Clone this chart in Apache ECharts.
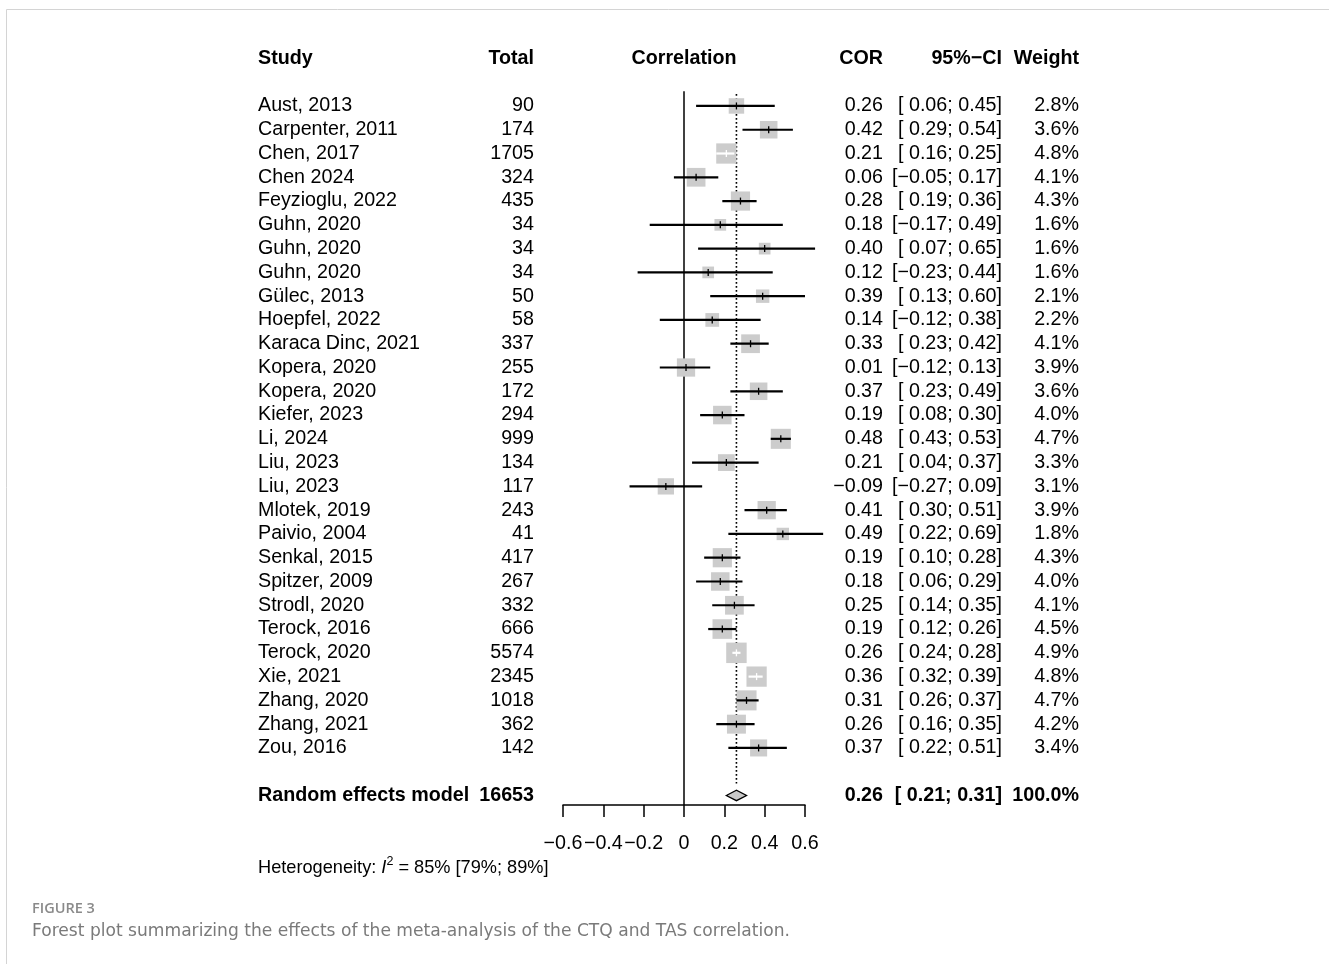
<!DOCTYPE html>
<html><head><meta charset="utf-8">
<script src="https://cdn.jsdelivr.net/npm/echarts@6/dist/echarts.min.js"></script>
<style>html,body{margin:0;padding:0;background:#fff}#chart{width:1329px;height:964px}</style>
</head><body><div id="chart"></div>
<script>
// ---------- data ----------
const studies = ['Aust, 2013','Carpenter, 2011','Chen, 2017','Chen 2024','Feyzioglu, 2022','Guhn, 2020','Guhn, 2020','Guhn, 2020','Gülec, 2013','Hoepfel, 2022','Karaca Dinc, 2021','Kopera, 2020','Kopera, 2020','Kiefer, 2023','Li, 2024','Liu, 2023','Liu, 2023','Mlotek, 2019','Paivio, 2004','Senkal, 2015','Spitzer, 2009','Strodl, 2020','Terock, 2016','Terock, 2020','Xie, 2021','Zhang, 2020','Zhang, 2021','Zou, 2016'];
const totals = [90,174,1705,324,435,34,34,34,50,58,337,255,172,294,999,134,117,243,41,417,267,332,666,5574,2345,1018,362,142];
const cor = [0.26,0.42,0.21,0.06,0.28,0.18,0.40,0.12,0.39,0.14,0.33,0.01,0.37,0.19,0.48,0.21,-0.09,0.41,0.49,0.19,0.18,0.25,0.19,0.26,0.36,0.31,0.26,0.37];
const ciLow = [0.06,0.29,0.16,-0.05,0.19,-0.17,0.07,-0.23,0.13,-0.12,0.23,-0.12,0.23,0.08,0.43,0.04,-0.27,0.30,0.22,0.10,0.06,0.14,0.12,0.24,0.32,0.26,0.16,0.22];
const ciHigh = [0.45,0.54,0.25,0.17,0.36,0.49,0.65,0.44,0.60,0.38,0.42,0.13,0.49,0.30,0.53,0.37,0.09,0.51,0.69,0.28,0.29,0.35,0.26,0.28,0.39,0.37,0.35,0.51];
const weights = [2.8,3.6,4.8,4.1,4.3,1.6,1.6,1.6,2.1,2.2,4.1,3.9,3.6,4.0,4.7,3.3,3.1,3.9,1.8,4.3,4.0,4.1,4.5,4.9,4.8,4.7,4.2,3.4];
const pooledLabel = 'Random effects model';
const pooledTotal = 16653;
const pooledCor = 0.26, pooledLow = 0.21, pooledHigh = 0.31, pooledWeight = 100.0;
const xMin = -0.6, xMax = 0.6, xStep = 0.2;
const headers = ['Study','Total','Correlation','COR','95%\u2212CI','Weight'];
const hetI2 = '85%', hetCI = '[79%; 89%]';
const captionTitle = 'FIGURE 3';
const captionText = 'Forest plot summarizing the effects of the meta-analysis of the CTQ and TAS correlation.';

// ---------- layout / style ----------
const FONT = '"Liberation Sans", Arial, Helvetica, sans-serif';
const FS = 19.7;
const SQUARE_K = 9.25;
const HEADER_ROW = -2;
const POOLED_ROW = studies.length + 1;
const COL = {study: 258, total: 534, cor: 883, ci: 1002, weight: 1079};
const MINUS = '\u2212';
function fmt(v){ return (v < 0 ? MINUS : '') + Math.abs(v).toFixed(2); }
function fmtCI(l, h){ return '[' + (l < 0 ? MINUS : ' ') + Math.abs(l).toFixed(2) + '; ' + (h < 0 ? MINUS : '') + Math.abs(h).toFixed(2) + ']'; }

function txt(text, x, y, align, bold){
  return {type: 'text', style: {text: text, x: x, y: y, align: align, verticalAlign: 'middle',
    fill: '#000', fontSize: FS, fontFamily: FONT, fontWeight: bold ? 'bold' : 'normal'}};
}

const chart = echarts.init(document.getElementById('chart'), null, {renderer: 'canvas'});

const rowIdx = studies.map((s, i) => [0, i]);

const option = {
  backgroundColor: '#fff',
  animation: false,
  grid: {left: 563, width: 242, top: 58.4, height: 746.6, containLabel: false, outerBoundsMode: 'none'},
  xAxis: {
    type: 'value', min: xMin, max: xMax, interval: xStep,
    axisLine: {show: true, onZero: false, lineStyle: {color: '#000', width: 1.5}},
    axisTick: {show: true, length: 12, inside: false, lineStyle: {color: '#000', width: 1.5}},
    axisLabel: {show: true, margin: 29, color: '#000', fontSize: FS, fontFamily: FONT, hideOverlap: false,
      showMinLabel: true, showMaxLabel: true,
      formatter: v => { const r = Math.round(v * 10) / 10; return r === 0 ? '0' : (r < 0 ? MINUS : '') + Math.abs(r).toFixed(1); }},
    splitLine: {show: false}
  },
  yAxis: {type: 'value', min: HEADER_ROW, max: POOLED_ROW + 0.4, inverse: true, show: false,
    axisLine: {show: false}, splitLine: {show: false}},
  series: [
    { // reference lines
      type: 'custom', clip: false, silent: true, z: 1,
      data: [[0, 0]],
      renderItem: (params, api) => {
        const z0 = api.coord([0, -0.62]), z1 = api.coord([0, POOLED_ROW + 0.4]);
        const d0 = api.coord([pooledCor, -0.5]), d1 = api.coord([pooledCor, POOLED_ROW - 0.5]);
        return {type: 'group', children: [
          {type: 'line', shape: {x1: z0[0], y1: z0[1], x2: z1[0], y2: z1[1]}, style: {stroke: '#000', lineWidth: 1.5}},
          {type: 'line', shape: {x1: d0[0], y1: d0[1], x2: d1[0], y2: d1[1]}, style: {stroke: '#000', lineWidth: 1.6, lineDash: [1.6, 2.4]}}
        ]};
      }
    },
    { // study squares and CIs
      type: 'custom', clip: false, silent: true, z: 2,
      data: rowIdx,
      renderItem: (params, api) => {
        const i = params.dataIndex;
        const c = api.coord([cor[i], i]);
        const pL = api.coord([ciLow[i], i]);
        const pH = api.coord([ciHigh[i], i]);
        const side = SQUARE_K * Math.sqrt(weights[i]);
        const half = side / 2;
        const inside = (c[0] - pL[0]) < half && (pH[0] - c[0]) < half;
        const col = inside ? '#fff' : '#000';
        return {type: 'group', children: [
          {type: 'rect', shape: {x: c[0] - half, y: c[1] - half, width: side, height: side}, style: {fill: '#cccccc'}},
          {type: 'line', shape: {x1: pL[0], y1: c[1], x2: pH[0], y2: c[1]}, style: {stroke: col, lineWidth: 2.2}},
          {type: 'line', shape: {x1: c[0], y1: c[1] - 3.5, x2: c[0], y2: c[1] + 3.5}, style: {stroke: col, lineWidth: 1.3}}
        ]};
      }
    },
    { // pooled diamond
      type: 'custom', clip: false, silent: true, z: 3,
      data: [[pooledCor, POOLED_ROW]],
      renderItem: (params, api) => {
        const c = api.coord([pooledCor, POOLED_ROW]);
        const l = api.coord([pooledLow, POOLED_ROW]);
        const h = api.coord([pooledHigh, POOLED_ROW]);
        return {type: 'polygon', shape: {points: [[l[0], c[1]], [c[0], c[1] - 5.2], [h[0], c[1]], [c[0], c[1] + 5.2]]},
          style: {fill: '#c8c8c8', stroke: '#000', lineWidth: 1.3}};
      }
    },
    { // text table
      type: 'custom', clip: false, silent: true, z: 4,
      data: [[0, HEADER_ROW]].concat(rowIdx).concat([[0, POOLED_ROW]]),
      renderItem: (params, api) => {
        const k = params.dataIndex;
        if (k === 0) {
          const y = api.coord([0, HEADER_ROW])[1];
          const cx = api.coord([0, HEADER_ROW])[0];
          return {type: 'group', children: [
            txt(headers[0], COL.study, y, 'left', true),
            txt(headers[1], COL.total, y, 'right', true),
            txt(headers[2], cx, y, 'center', true),
            txt(headers[3], COL.cor, y, 'right', true),
            txt(headers[4], COL.ci, y, 'right', true),
            txt(headers[5], COL.weight, y, 'right', true)
          ]};
        }
        if (k === studies.length + 1) {
          const y = api.coord([0, POOLED_ROW])[1];
          return {type: 'group', children: [
            txt(pooledLabel, COL.study, y, 'left', true),
            txt(String(pooledTotal), COL.total, y, 'right', true),
            txt(fmt(pooledCor), COL.cor, y, 'right', true),
            txt(fmtCI(pooledLow, pooledHigh), COL.ci, y, 'right', true),
            txt(pooledWeight.toFixed(1) + '%', COL.weight, y, 'right', true)
          ]};
        }
        const i = k - 1;
        const y = api.coord([0, i])[1];
        return {type: 'group', children: [
          txt(studies[i], COL.study, y, 'left', false),
          txt(String(totals[i]), COL.total, y, 'right', false),
          txt(fmt(cor[i]), COL.cor, y, 'right', false),
          txt(fmtCI(ciLow[i], ciHigh[i]), COL.ci, y, 'right', false),
          txt(weights[i].toFixed(1) + '%', COL.weight, y, 'right', false)
        ]};
      }
    }
  ],
  graphic: [
    {type: 'rect', silent: true, shape: {x: 6.5, y: 9.5, width: 1400, height: 1000}, style: {fill: 'none', stroke: '#d4d4d4', lineWidth: 1}},
    {type: 'text', silent: true, left: 258, top: 855,
      style: {text: '{n|Heterogeneity: }{i|I}{s|2}{n| = ' + hetI2 + ' ' + hetCI + '}',
        rich: {
          n: {fontSize: 18.2, fontFamily: FONT, fill: '#000', lineHeight: 22, verticalAlign: 'bottom'},
          i: {fontSize: 18.2, fontFamily: FONT, fontStyle: 'italic', fill: '#000', lineHeight: 22, verticalAlign: 'bottom'},
          s: {fontSize: 12.5, fontFamily: FONT, fill: '#000', lineHeight: 22, verticalAlign: 'top'}
        }}},
    {type: 'text', silent: true, left: 32, top: 901,
      style: {text: captionTitle, fontSize: 14.5, fontFamily: '"Open Sans", sans-serif', fontWeight: 600, fill: '#8a8a8a'}},
    {type: 'text', silent: true, left: 32, top: 923,
      style: {text: captionText, fontSize: 17.1, fontFamily: '"DejaVu Sans", sans-serif', fontWeight: 400, fill: '#7a7a7a'}}
  ]
};
chart.setOption(option);
</script>
</body></html>
